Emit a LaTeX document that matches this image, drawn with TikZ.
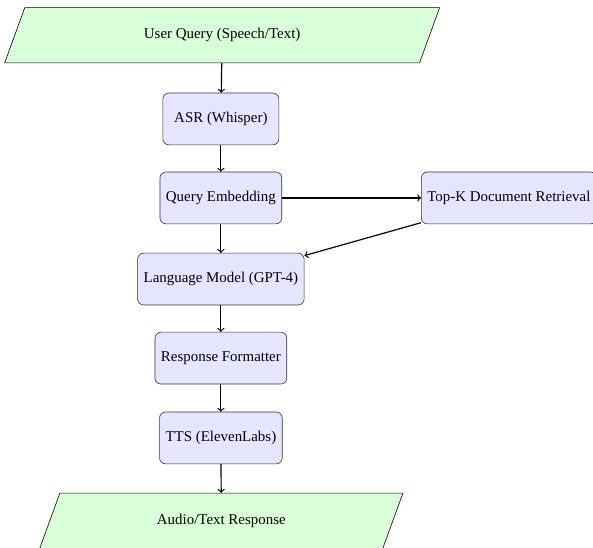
\documentclass[tikz,border=0pt]{standalone}
\usepackage{fontspec}
\setmainfont{Liberation Serif}
\usetikzlibrary{shapes.geometric}
\usetikzlibrary{positioning}

\begin{document}
\begin{tikzpicture}

\tikzset{block/.style = {rectangle,rounded corners,draw=black!80,fill=blue!10,minimum width=2.73cm,minimum height=1.22cm,inner xsep=4pt}}
\tikzset{io/.style = {trapezium,trapezium left angle=70,trapezium right angle=110,trapezium stretches body,draw,fill=green!15,text height=0.7em,text depth=0.25em,inner ysep=13.75pt}}
\tikzset{edge/.style = {->,thick}}

\useasboundingbox (-5.2,-8.22) rectangle (8.76,4.66);

%vertex
\node[io,minimum width=10.24cm] (query) at (0.03,3.83) {User Query (Speech/Text)};
\node[block] (asr) at (0,1.86) {ASR (Whisper)};
\node[block] (embed) at (0,0) {Query Embedding};
\node[block] (retrieve) at (6.78,0) {Top-K Document Retrieval};
\node[block] (llm) at (0,-1.91) {Language Model (GPT-4)};
\node[block] (format) at (0,-3.77) {Response Formatter};
\node[block] (tts) at (0,-5.65) {TTS (ElevenLabs)};
\node[io,minimum width=8.55cm] (answer) at (0.01,-7.6) {Audio/Text Response};

%vertical edge
\draw[edge] (query) to (asr);
\draw[edge] (asr) to (embed);
\draw[edge] (embed) to (llm);
\draw[edge] (llm) to (format);
\draw[edge] (format) to (tts);
\draw[edge] (tts) to (answer);

%retrieval edge
\draw[edge] (embed) to (retrieve);
\draw[edge] (retrieve) to (llm);

\end{tikzpicture}
\end{document}
